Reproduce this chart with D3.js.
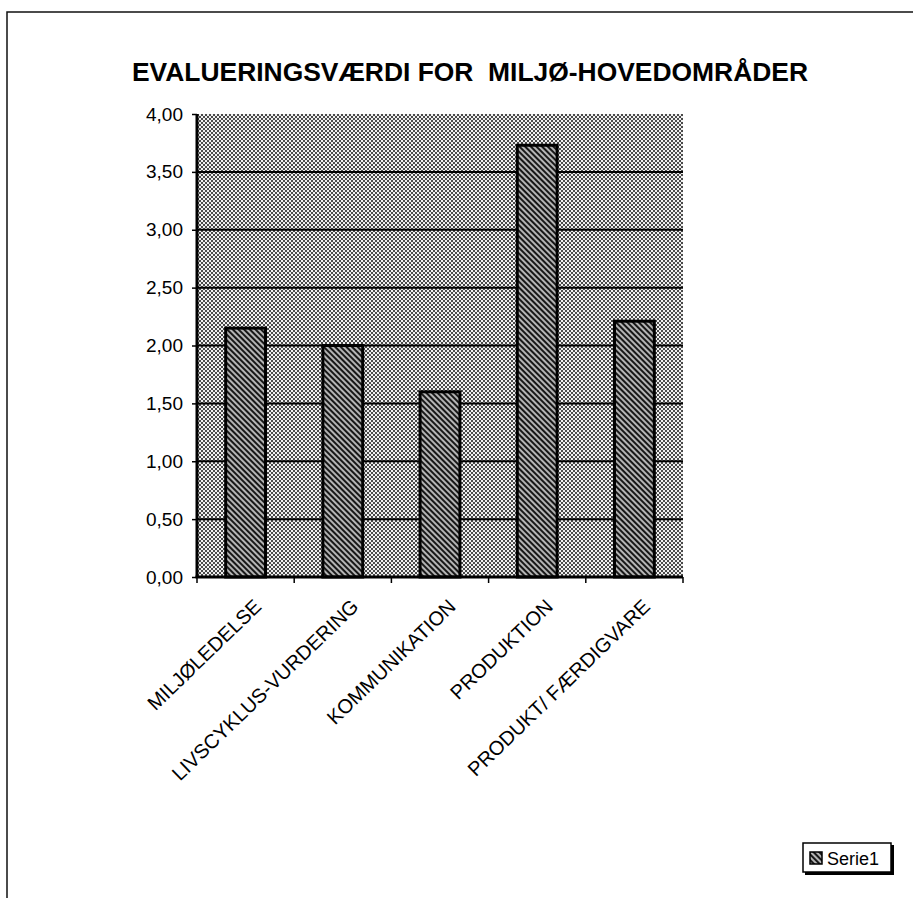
<!DOCTYPE html>
<html>
<head>
<meta charset="utf-8">
<script src="https://cdn.jsdelivr.net/npm/d3@7"></script>
<style>
  html, body { margin: 0; padding: 0; background: #fff; }
  svg { display: block; font-family: "Liberation Sans", Arial, sans-serif; }
</style>
</head>
<body>
<svg id="chart" width="913" height="898"></svg>
<script>
// Data
const categories = ["MILJØLEDELSE", "LIVSCYKLUS-VURDERING", "KOMMUNIKATION", "PRODUKTION", "PRODUKT/ FÆRDIGVARE"];
const values = [2.15, 2.00, 1.60, 3.73, 2.21];
const yTicks = [0, 0.5, 1, 1.5, 2, 2.5, 3, 3.5, 4];
const title = "EVALUERINGSVÆRDI FOR\u00a0 MILJØ-HOVEDOMRÅDER";
const seriesName = "Serie1";

const svg = d3.select("#chart");
const margin = { top: 114, left: 197, right: 230, bottom: 321 };
const W = 913, H = 898;
const plotW = W - margin.left - margin.right;
const plotH = H - margin.top - margin.bottom;

// ── patterns ─────────────────────────────────────────────
const defs = svg.append("defs");

const dots = defs.append("pattern")
  .attr("id", "dots")
  .attr("width", 4).attr("height", 4)
  .attr("patternUnits", "userSpaceOnUse");
dots.append("rect").attr("width", 4).attr("height", 4).attr("fill", "#efefef");
dots.append("rect").attr("width", 2).attr("height", 2).attr("fill", "#4a4a4a");
dots.append("rect").attr("x", 2).attr("y", 2).attr("width", 2).attr("height", 2).attr("fill", "#4a4a4a");

const hatch = defs.append("pattern")
  .attr("id", "hatch")
  .attr("width", 4).attr("height", 4)
  .attr("patternUnits", "userSpaceOnUse")
  .attr("patternTransform", "rotate(-45)");
hatch.append("rect").attr("width", 4).attr("height", 4).attr("fill", "#b4b4b4");
hatch.append("rect").attr("width", 2).attr("height", 4).attr("fill", "#181818");

// ── outer frame (top + left) ─────────────────────────────
svg.append("path")
  .attr("d", `M7,${H} V12 H${W}`)
  .attr("fill", "none")
  .attr("stroke", "#111")
  .attr("stroke-width", 1.5);

// ── title ────────────────────────────────────────────────
svg.append("text")
  .attr("x", 470).attr("y", 81)
  .attr("text-anchor", "middle")
  .attr("font-size", 25)
  .attr("font-weight", "bold")
  .attr("textLength", 676)
  .attr("lengthAdjust", "spacingAndGlyphs")
  .text(title);

const g = svg.append("g").attr("transform", `translate(${margin.left},${margin.top})`);

// ── scales ───────────────────────────────────────────────
const x = d3.scaleBand()
  .domain(categories)
  .range([0, plotW])
  .paddingInner(0.59)
  .paddingOuter(0.295);

const y = d3.scaleLinear().domain([0, 4]).range([plotH, 0]);

// plot background
g.append("rect")
  .attr("width", plotW).attr("height", plotH)
  .attr("fill", "url(#dots)");

// gridlines
g.append("g")
  .selectAll("line")
  .data(yTicks.filter(d => d > 0 && d < 4))
  .join("line")
  .attr("x1", 0).attr("x2", plotW)
  .attr("y1", d => y(d)).attr("y2", d => y(d))
  .attr("stroke", "#000")
  .attr("stroke-width", 2);

// bars
g.append("g")
  .selectAll("rect")
  .data(values)
  .join("rect")
  .attr("x", (d, i) => x(categories[i]))
  .attr("y", d => y(d))
  .attr("width", x.bandwidth())
  .attr("height", d => plotH - y(d))
  .attr("fill", "url(#hatch)")
  .attr("stroke", "#000")
  .attr("stroke-width", 3);

// y axis
const yAxis = g.append("g")
  .call(d3.axisLeft(y)
    .tickValues(yTicks)
    .tickSize(5)
    .tickPadding(9)
    .tickFormat(d => d3.format(".2f")(d).replace(".", ",")));
yAxis.select(".domain").attr("stroke", "#000").attr("stroke-width", 3)
  .attr("d", `M0,${plotH + 1}V0`);
yAxis.selectAll(".tick line").attr("stroke", "#000").attr("stroke-width", 1.5);
yAxis.selectAll(".tick text")
  .attr("font-size", 19)
  .attr("fill", "#000")
  .attr("font-family", "Liberation Sans, Arial, sans-serif");

// x axis: ticks on category boundaries
const boundaries = categories.map(c => x(c) - x.step() * x.paddingInner() / 2);
boundaries.push(plotW);
const xAxis = g.append("g").attr("transform", `translate(0,${plotH})`);
xAxis.append("line")
  .attr("x1", -1.5).attr("x2", plotW)
  .attr("stroke", "#000").attr("stroke-width", 3);
xAxis.selectAll(".bt")
  .data(boundaries)
  .join("line")
  .attr("class", "bt")
  .attr("x1", d => d).attr("x2", d => d)
  .attr("y1", 0).attr("y2", 6)
  .attr("stroke", "#000").attr("stroke-width", 1.5);

// category labels, rotated
xAxis.selectAll(".lbl")
  .data(categories)
  .join("text")
  .attr("class", "lbl")
  .attr("text-anchor", "end")
  .attr("font-size", 20)
  .attr("transform", d => `translate(${x(d) + x.bandwidth() / 2 + 17},${31}) rotate(-44)`)
  .text(d => d);

// ── legend ───────────────────────────────────────────────
const lg = svg.append("g").attr("transform", "translate(803,843)");
lg.append("rect")
  .attr("x", 2).attr("y", 2)
  .attr("width", 89).attr("height", 30)
  .attr("fill", "#000");
lg.append("rect")
  .attr("width", 88).attr("height", 29)
  .attr("fill", "#fff")
  .attr("stroke", "#000")
  .attr("stroke-width", 1.5);
lg.append("rect")
  .attr("x", 7).attr("y", 9)
  .attr("width", 12).attr("height", 12)
  .attr("fill", "url(#hatch)")
  .attr("stroke", "#000")
  .attr("stroke-width", 1.5);
lg.append("text")
  .attr("x", 24).attr("y", 22)
  .attr("font-size", 18)
  .text(seriesName);
</script>
</body>
</html>
